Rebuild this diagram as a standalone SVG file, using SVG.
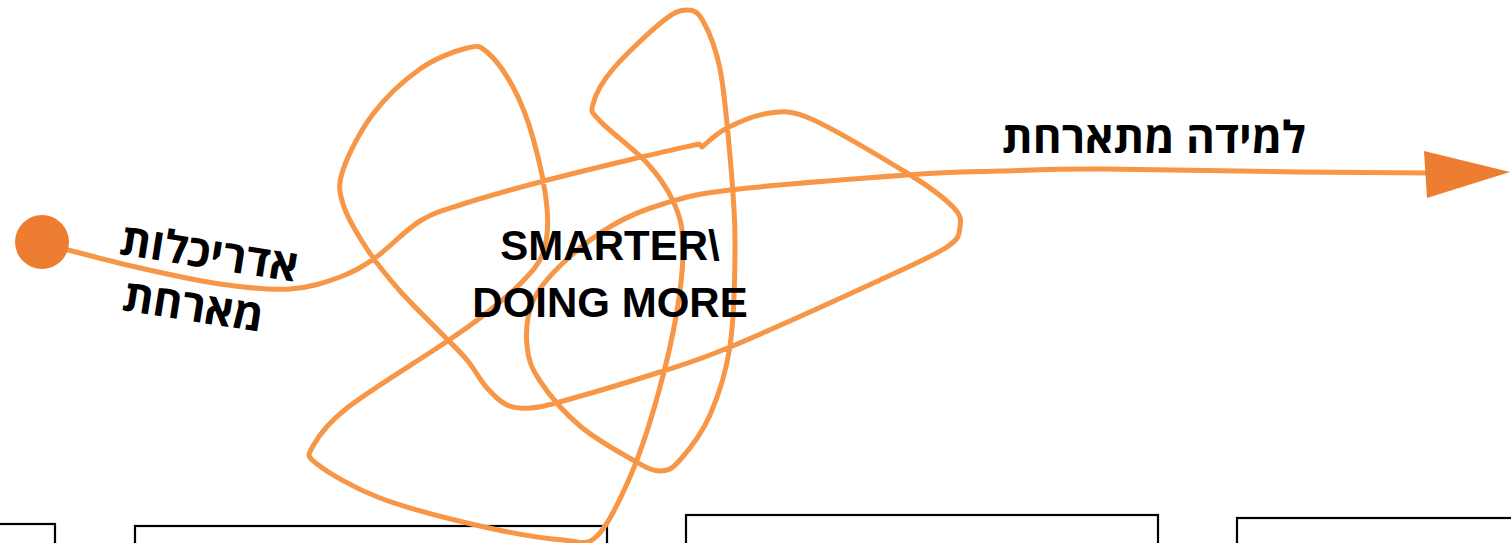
<svg xmlns="http://www.w3.org/2000/svg" width="1511" height="543" viewBox="0 0 1511 543">
<style>
.box{fill:none;stroke:#000;stroke-width:2.2}
.wire{fill:none;stroke:#F79646;stroke-width:5;stroke-linecap:round;stroke-linejoin:round}
.head{fill:#ED7D31}
.lbl{font-family:"Liberation Sans","DejaVu Sans",sans-serif;font-weight:bold;fill:#000}
.heb{font-family:"Open Sans","Liberation Sans",sans-serif;font-weight:bold;direction:rtl;fill:#000}
</style>
<rect width="1511" height="543" fill="#fff"/>
<g id="boxes">
<rect id="box1" class="box" x="-20" y="524" width="75" height="40"/>
<rect id="box2" class="box" x="135" y="526" width="472" height="40"/>
<rect id="box3" class="box" x="686" y="515" width="472" height="40"/>
<rect id="box4" class="box" x="1237" y="518" width="300" height="40"/>
</g>
<g id="connectors">
<path class="wire" d="M68,250 C80,253 114.7,262.3 140,268 C165.3,273.7 195,280.5 220,284 C245,287.5 270,290.2 290,289 C310,287.8 325.8,282.2 340,277 C354.2,271.8 361.7,267.3 375,258 C388.3,248.7 405.3,230 420,221 C434.7,212 443,210.5 463,204 C483,197.5 511.7,189.5 540,182 C568.3,174.5 606.5,165.3 633,159 C659.5,152.7 688,146.5 699,144 L702,147 C706.2,143.8 715.7,133.7 727,128 C738.3,122.3 756.7,114.7 770,113 C783.3,111.3 790,110 809,118 C831,127 882.7,158.2 907,173 C931.3,187.8 944.2,198 953,207 C961.8,216 961,220.3 960,227 C959,233.7 960.3,238.2 947,247 C933.7,255.8 916.2,263.3 880,280 C843.8,296.7 766.7,331.7 730,347 C693.3,362.3 687.8,363 660,372 C632.2,381 584.7,395 563,401 C541.3,407 539.3,407.3 530,408 C520.7,408.7 514.2,408.3 507,405 C499.8,401.7 493.7,395.5 487,388 C480.3,380.5 474.8,369.3 467,360 C459.2,350.7 451.2,343.5 440,332 C428.8,320.5 412.2,304.8 400,291 C387.8,277.2 376.5,263.5 367,249 C357.5,234.5 347,217.2 343,204 C339,190.8 338,185 343,170 C348,155 360.2,130.8 373,114 C385.8,97.2 404.3,80 420,69 C435.7,58 455.8,50.8 467,48 C478.2,45.2 479.3,45.5 487,52 C494.7,58.5 505.3,72.7 513,87 C520.7,101.3 527.3,117.8 533,138 C538.7,158.2 545.3,188.8 547,208 C548.7,227.2 547.5,240.3 543,253 C538.5,265.7 530.5,273.2 520,284 C509.5,294.8 493.3,307.7 480,318 C466.7,328.3 462.2,331 440,346 C417.8,361 368.2,391.3 347,408 C325.8,424.7 318,436.7 313,446 C308,455.3 305.8,455.3 317,464 C328.2,472.7 352.8,487.7 380,498 C407.2,508.3 449.5,519 480,526 C510.5,533 543.5,538.3 563,540 C582.5,541.7 585.8,546.5 597,536 C608.2,525.5 620,500 630,477 C640,454 649.2,425.7 657,398 C664.8,370.3 672.7,337 677,311 C681.3,285 683.7,260.3 683,242 C682.3,223.7 679,214.2 673,201 C667,187.8 659.2,176.3 647,163 C634.8,149.7 609,130.8 600,121 C591,111.2 590.8,112.7 593,104 C595.2,95.3 601.3,82.8 613,69 C624.7,55.2 650.7,30.8 663,21 C675.3,11.2 680.3,10 687,10 C693.7,10 697.5,11.2 703,21 C708.5,30.8 715.5,46.5 720,69 C724.5,91.5 727.5,127.2 730,156 C732.5,184.8 735,210.3 735,242 C735,273.7 734.2,317.2 730,346 C725.8,374.8 718.3,396 710,415 C701.7,434 688.3,450.7 680,460 C671.7,469.3 667.8,471 660,471 C652.2,471 646.3,467.5 633,460 C619.7,452.5 595.5,439.2 580,426 C564.5,412.8 548.8,394.3 540,381 C531.2,367.7 528.2,359.3 527,346 C525.8,332.7 527,314.8 533,301 C539,287.2 549.7,275.7 563,263 C576.3,250.3 596.3,234.8 613,225 C629.7,215.2 643.5,209.8 663,204 C682.5,198.2 689.3,194.8 730,190 C770.7,185.2 862,178.2 907,175 C952,171.8 967.2,172 1000,171 C1032.8,170 1054,168.8 1104,169 C1154,169.2 1246,171.3 1300,172 C1354,172.7 1406.7,172.8 1430,173"/>
<path class="head" d="M1510,172 L1424,151 L1427,198 Z"/>
</g>
<g id="start">
<circle cx="42" cy="242" r="27" fill="#ED7D31"/>
</g>
<g id="label-start">
<text class="heb" font-size="44" text-anchor="middle" transform="rotate(9 207 268)" x="207" y="268">אדריכלות</text>
<text class="heb" font-size="44" text-anchor="middle" transform="rotate(9 191 321)" x="191" y="321">מארחת</text>
</g>
<g id="label-middle">
<text class="lbl" font-size="42" text-anchor="middle" x="610" y="260">SMARTER\</text>
<text class="lbl" font-size="42" text-anchor="middle" x="610" y="317">DOING MORE</text>
</g>
<g id="label-end">
<text class="heb" font-size="44" text-anchor="middle" x="1154" y="153">למידה מתארחת</text>
</g>
</svg>
